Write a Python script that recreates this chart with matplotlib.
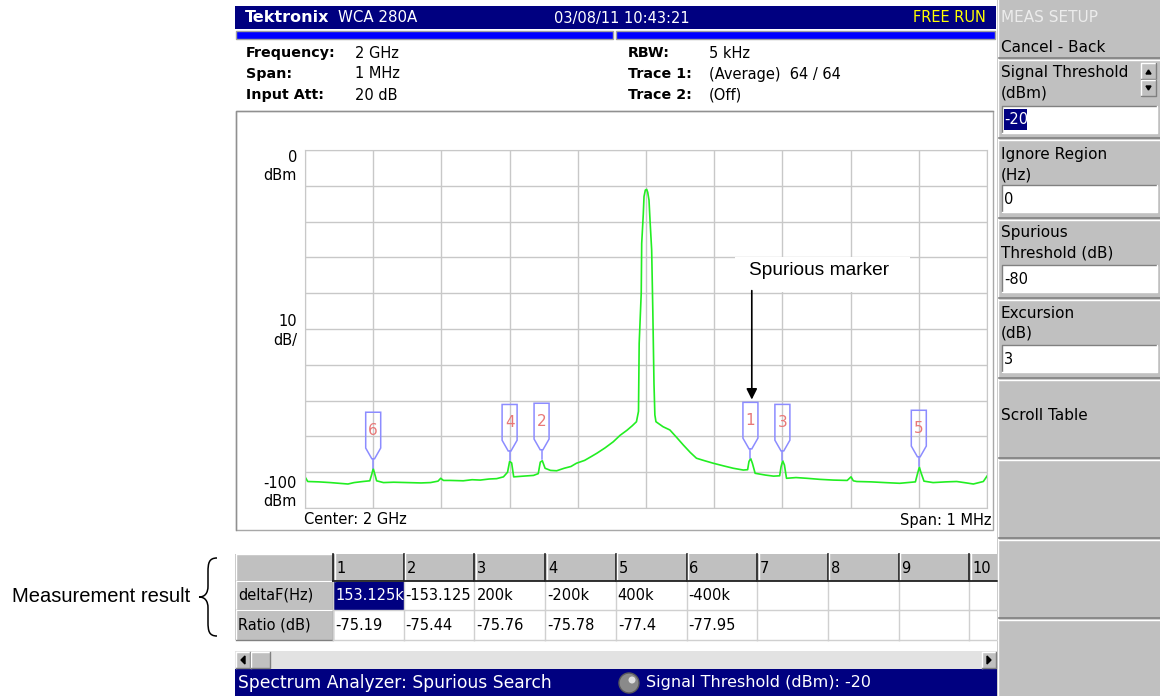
import matplotlib
matplotlib.use('Agg')
import matplotlib.pyplot as plt
from matplotlib.patches import Rectangle, Polygon, Circle, PathPatch
from matplotlib.path import Path

# trace: offset from 2 GHz (kHz) and level (dBm)
trace_khz = [-500, -496, -480, -463, -450, -437, -428, -415, -405, -402, -400, -398, -395,
             -385, -370, -350, -330, -316, -305, -301, -297, -287, -268, -255, -243, -230,
             -219, -209, -203, -200, -197, -194, -180, -165, -158, -155, -152, -148, -140,
             -131, -120, -110, -102, -90, -80, -72, -60, -48, -38, -28, -20, -14, -11, -10,
             -7, -6.3, -4, -2.9, -1, 1, 2.5, 4.4, 6, 8.3, 10, 11.7, 13, 14.6, 25, 35, 45,
             54.7, 65, 74, 86, 98.7, 113, 128, 142.7, 149, 151, 153.5, 156, 160, 175, 187,
             196, 198, 200.4, 203, 206, 220, 235.6, 255, 274.6, 295, 300.6, 304, 309, 330,
             350, 372, 395, 398, 400.8, 403, 407.6, 421, 440, 455.6, 470, 480, 494.6, 500]
trace_dbm = [-91.3, -92.6, -92.7, -92.9, -93.1, -93.3, -92.9, -92.6, -92.4, -90.5, -89.0,
             -90.3, -92.4, -92.9, -92.8, -92.9, -93.0, -92.9, -92.5, -91.7, -92.3, -92.3,
             -92.4, -92.1, -92.2, -91.9, -91.8, -91.3, -90.0, -87.0, -87.4, -91.3, -91.1,
             -90.9, -90.4, -87.2, -86.8, -88.9, -89.5, -89.6, -88.9, -88.4, -87.5, -86.7,
             -85.6, -84.7, -83.2, -81.5, -79.7, -78.3, -77.0, -75.9, -73.0, -54.0, -40.0,
             -26.1, -18.0, -13.0, -11.2, -11.0, -11.8, -14.0, -20.0, -27.9, -45.0, -65.2,
             -74.0, -75.9, -77.3, -78.2, -80.3, -82.4, -84.5, -86.1, -86.8, -87.5, -88.2,
             -88.9, -89.4, -89.3, -87.0, -86.2, -87.5, -90.3, -90.8, -91.1, -91.0, -88.5,
             -86.8, -88.0, -91.7, -91.5, -91.7, -92.0, -92.2, -92.3, -91.3, -92.4, -92.6,
             -92.7, -92.9, -93.1, -92.7, -90.5, -88.6, -90.0, -92.5, -92.9, -92.7, -92.6,
             -93.0, -93.3, -92.6, -91.1]

carrier_dbm = -10.9
spur_no = [1, 2, 3, 4, 5, 6]
spur_khz = [153.125, -153.125, 200, -200, 400, -400]
spur_ratio = [-75.19, -75.44, -75.76, -75.78, -77.4, -77.95]
delta_labels = ['153.125k', '-153.125', '200k', '-200k', '400k', '-400k']
ratio_labels = ['-75.19', '-75.44', '-75.76', '-75.78', '-77.4', '-77.95']
col_numbers = ['1', '2', '3', '4', '5', '6', '7', '8', '9', '10']

UI = ['DejaVu Sans']
NOTE = ['Liberation Sans Narrow', 'Liberation Sans', 'DejaVu Sans']
NAVY = '#000080'
PANEL = '#c0c0c0'

fig = plt.figure(figsize=(11.6, 6.96), dpi=100)
scr = fig.add_axes([0, 0, 1, 1])
scr.set_xlim(0, 1160)
scr.set_ylim(696, 0)
scr.axis('off')


def box(x0, y0, x1, y1, fc, ec='none', lw=0, z=1):
    scr.add_patch(Rectangle((x0, y0), x1 - x0, y1 - y0, facecolor=fc, edgecolor=ec, linewidth=lw, zorder=z))


def bevel(x0, y0, x1, y1, raised=True, z=2):
    light, dark = ('white', '#808080') if raised else ('#808080', 'white')
    scr.plot([x0, x0, x1], [y1, y0, y0], color=light, lw=1, zorder=z)
    scr.plot([x0, x1, x1], [y1, y1, y0], color=dark, lw=1, zorder=z)


def txt(x, y, s, size=10, color='black', ha='left', weight='normal', family=UI, z=5):
    return scr.text(x, y, s, fontsize=size, color=color, ha=ha, va='center',
                    fontweight=weight, family=family, zorder=z)


# header bar
box(235, 6, 996, 29, NAVY)
txt(245, 18, 'Tektronix', 11.5, 'white', weight='bold')
txt(338, 18, 'WCA 280A', 10.8, 'white')
txt(622, 18, '03/08/11 10:43:21', 10.5, 'white', ha='center')
txt(986, 18, 'FREE RUN', 10.5, '#ffff00', ha='right')
box(236, 31, 613, 39, '#0000ff', '#a0a0a0', 1)
box(616, 31, 995, 39, '#0000ff', '#a0a0a0', 1)

# setup info
info_left = [('Frequency:', '2 GHz'), ('Span:', '1 MHz'), ('Input Att:', '20 dB')]
info_right = [('RBW:', '5 kHz'), ('Trace 1:', '(Average)  64 / 64'), ('Trace 2:', '(Off)')]
for i, (lab, val) in enumerate(info_left):
    txt(246, 53 + 21 * i, lab, 10.3, weight='bold')
    txt(355, 53 + 21 * i, val, 10.5)
for i, (lab, val) in enumerate(info_right):
    txt(628, 53 + 21 * i, lab, 10.3, weight='bold')
    txt(709, 53 + 21 * i, val, 10.5)

# plot frame
box(236, 111, 993, 530, 'white', '#a8a8a8', 1, z=0.5)
scr.plot([236, 236, 993], [530, 111, 111], color='#909090', lw=1, zorder=2)
txt(297, 158, '0', 10.5, ha='right')
txt(297, 176, 'dBm', 10.5, ha='right')
txt(297, 322, '10', 10.5, ha='right')
txt(297, 340, 'dB/', 10.5, ha='right')
txt(297, 483, '-100', 10.5, ha='right')
txt(297, 501, 'dBm', 10.5, ha='right')
txt(304, 520, 'Center: 2 GHz', 10.5)
txt(992, 520, 'Span: 1 MHz', 10.5, ha='right')

# spectrum
L, T, R, B = 305, 150, 987, 508
ax = fig.add_axes([L / 1160, 1 - B / 696, (R - L) / 1160, (B - T) / 696])
ax.set_facecolor('white')
ax.set_xlim(-500, 500)
ax.set_ylim(-100, 0)
ax.set_xticks(range(-500, 501, 100))
ax.set_yticks(range(-100, 1, 10))
ax.tick_params(length=0, labelbottom=False, labelleft=False)
ax.grid(color='#c8c8c8', lw=1)
ax.set_axisbelow(True)
for s in ax.spines.values():
    s.set_color('#c8c8c8')
ax.plot(trace_khz, trace_dbm, color='#22ee22', lw=1.2, zorder=2)

for n, f, r in zip(spur_no, spur_khz, spur_ratio):
    lvl = carrier_dbm + r
    hw = 11
    top, bot, tip = lvl + 15.6, lvl + 5.6, lvl + 2.6
    ax.add_patch(Polygon([(f - hw, top), (f + hw, top), (f + hw, bot), (f + 2, tip),
                          (f - 2, tip), (f - hw, bot)], closed=True, fill=False,
                         edgecolor='#8c8cff', lw=1.1, zorder=3))
    ax.plot([f, f], [tip, lvl], color='#8c8cff', lw=1.1, zorder=3)
    ax.text(f, (top + bot) / 2, str(n), color='#e87878', fontsize=11, ha='center', va='center', zorder=3)

lvl1 = carrier_dbm + spur_ratio[0]
ax.add_patch(Rectangle((130, -39.7), 257, 9.8, facecolor='white', edgecolor='none', zorder=3))
ax.text(151, -33.6, 'Spurious marker', family=NOTE, fontsize=13.8, ha='left', va='center', zorder=4)
ax.annotate('', xy=(spur_khz[0] + 2, lvl1 + 15.6), xytext=(spur_khz[0] + 2, -38.5),
            arrowprops=dict(arrowstyle='-|>', color='black', lw=1.2, mutation_scale=16), zorder=4)

# result table
cx0, cw = 333, 70.7
y_h, y_1, y_2, y_3 = 554, 581, 610, 640
box(235, y_h, 997, y_h + 1, 'white')
box(235, y_h, cx0, y_3, PANEL)
bevel(236, y_h, cx0, y_1)
bevel(236, y_1, cx0, y_2)
bevel(236, y_2, cx0, y_3)
txt(238, (y_1 + y_2) / 2, 'deltaF(Hz)', 10.5)
txt(238, (y_2 + y_3) / 2, 'Ratio (dB)', 10.5)
for i, num in enumerate(col_numbers):
    x0 = cx0 + i * cw
    x1 = min(x0 + cw, 997)
    box(x0, y_h, x1, y_1, PANEL)
    scr.plot([x0, x0], [y_h, y_1], color='#202020', lw=1.2, zorder=2)
    scr.plot([x0 + 1.5, x0 + 1.5], [y_h, y_1], color='white', lw=1, zorder=2)
    txt(x0 + 3, (y_h + y_1) / 2 + 1, num, 10.5)
    box(x0, y_1, x1, y_3, 'white')
    scr.plot([x0, x0], [y_1, y_3], color='#d0d0d0', lw=1, zorder=2)
    scr.plot([x0, x1], [y_2, y_2], color='#d0d0d0', lw=1, zorder=2)
    scr.plot([x0, x1], [y_3, y_3], color='#d0d0d0', lw=1, zorder=2)
scr.plot([cx0, 997], [y_1, y_1], color='#202020', lw=1.3, zorder=2)
for i, (d, r) in enumerate(zip(delta_labels, ratio_labels)):
    x0 = cx0 + i * cw
    if i == 0:
        box(x0 + 1, y_1 + 1, x0 + cw, y_2, NAVY, z=1.5)
    t = txt(x0 + 2, (y_1 + y_2) / 2, d, 10.5, 'white' if i == 0 else 'black')
    t.set_clip_path(Rectangle((x0, y_1), cw, y_2 - y_1, transform=scr.transData))
    txt(x0 + 2, (y_2 + y_3) / 2, r, 10.5)

# scroll bar
box(235, 651, 997, 669, '#e2e2e2')
box(236, 652, 250, 668, PANEL)
bevel(236, 652, 250, 668)
scr.add_patch(Polygon([(245, 656), (245, 664), (241, 660)], color='black', zorder=3))
box(251, 652, 270, 668, PANEL)
bevel(251, 652, 270, 668)
box(982, 652, 996, 668, PANEL)
bevel(982, 652, 996, 668)
scr.add_patch(Polygon([(987, 656), (987, 664), (991, 660)], color='black', zorder=3))

# status bar
box(235, 669, 997, 696, NAVY)
txt(238, 683, 'Spectrum Analyzer: Spurious Search', 12.3, 'white')
scr.add_patch(Circle((629, 683), 10, facecolor='#8a8a8a', edgecolor='#5a5a5a', lw=1, zorder=3))
scr.add_patch(Circle((632, 680), 3.5, facecolor='#e0e0e0', edgecolor='none', zorder=4))
txt(646, 683, 'Signal Threshold (dBm): -20', 11.5, 'white')

# side menu
box(997, 0, 1160, 696, PANEL)
scr.plot([997.5, 997.5], [0, 696], color='white', lw=1, zorder=2)
for y in [58, 138, 218, 298, 378, 458, 538, 618]:
    scr.plot([999, 1160], [y, y], color='#808080', lw=1.2, zorder=2)
    scr.plot([999, 1160], [y + 1.5, y + 1.5], color='white', lw=1, zorder=2)
txt(1001, 18, 'MEAS SETUP', 11, '#ececec')
txt(1001, 47, 'Cancel - Back', 11)
t = txt(1001, 73, 'Signal Threshold', 11)
t.set_clip_path(Rectangle((999, 60), 141, 30, transform=scr.transData))
txt(1001, 93, '(dBm)', 11)
for y0 in [63, 80]:
    box(1141, y0, 1156, y0 + 16, PANEL)
    bevel(1141, y0, 1156, y0 + 16)
scr.add_patch(Polygon([(1146, 74), (1151, 74), (1148.5, 70)], color='black', zorder=3))
scr.add_patch(Polygon([(1146, 86), (1151, 86), (1148.5, 90)], color='black', zorder=3))

fields = [(106, '-20'), (185, '0'), (265, '-80'), (345, '3')]
for y0, val in fields:
    box(1002, y0, 1157, y0 + 27, 'white')
    bevel(1002, y0, 1157, y0 + 27, raised=False)
    if val == '-20':
        box(1004, y0 + 3, 1027, y0 + 24, NAVY, z=1.5)
        txt(1004, y0 + 14, val, 10.5, 'white')
    else:
        txt(1004, y0 + 14, val, 10.5)
txt(1001, 154, 'Ignore Region', 11)
txt(1001, 175, '(Hz)', 11)
txt(1001, 233, 'Spurious', 11)
txt(1001, 253, 'Threshold (dB)', 11)
txt(1001, 313, 'Excursion', 11)
txt(1001, 333, '(dB)', 11)
txt(1001, 416, 'Scroll Table', 11)

# callout for the table
brace = Path([(217, 558), (209, 558), (208, 563), (208, 572), (208, 586),
              (208, 593), (205, 597), (199, 597),
              (205, 597), (208, 601), (208, 608), (208, 622),
              (208, 631), (209, 636), (217, 636)],
             [Path.MOVETO, Path.CURVE4, Path.CURVE4, Path.CURVE4, Path.LINETO,
              Path.CURVE4, Path.CURVE4, Path.CURVE4,
              Path.CURVE4, Path.CURVE4, Path.CURVE4, Path.LINETO,
              Path.CURVE4, Path.CURVE4, Path.CURVE4])
scr.add_patch(PathPatch(brace, facecolor='none', edgecolor='black', lw=1.1, zorder=3))
txt(12, 597, 'Measurement result', 14.5, family=NOTE)

fig.savefig('out.png', dpi=100)
